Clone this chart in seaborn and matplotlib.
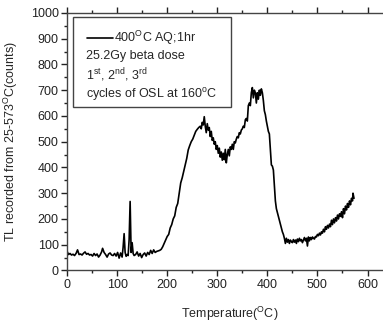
import numpy as np
import pandas as pd
import matplotlib
matplotlib.use("Agg")
import matplotlib.pyplot as plt
import seaborn as sns
from matplotlib.patches import Rectangle
from matplotlib.lines import Line2D
from matplotlib.ticker import MultipleLocator

# temperature (C) and TL counts
temperature = [0, 3, 6, 9, 12, 15, 18, 21, 24, 27, 30, 33, 36, 39, 42, 45, 48, 51, 54, 57,
               60, 63, 66, 69, 71, 74, 77, 80, 83, 86, 89, 92, 95, 98, 101, 104, 107, 110, 112, 114,
               116, 118, 120, 122, 124, 126, 128, 130, 132, 134, 137, 140, 143, 146, 149, 152, 155, 158, 161, 164,
               167, 170, 173, 176, 179, 182, 185, 188, 191, 194, 197, 200, 203, 206, 209, 212, 215, 218, 221, 224,
               227, 230, 233, 236, 239, 242, 245, 248, 251, 254, 257, 260, 263, 266, 268, 270, 272, 274, 276, 278,
               280, 282, 284, 286, 288, 290, 292, 294, 296, 298, 300, 302, 304, 306, 308, 310, 312, 314, 316, 318,
               320, 322, 324, 326, 328, 330, 332, 334, 336, 338, 340, 342, 344, 346, 348, 350, 352, 354, 356, 358,
               360, 362, 364, 366, 368, 370, 372, 374, 376, 378, 380, 382, 384, 386, 388, 390, 392, 394, 396, 398,
               400, 402, 404, 406, 408, 410, 412, 414, 416, 418, 420, 422, 424, 426, 428, 430, 432, 434, 436, 438,
               440, 442, 444, 446, 448, 450, 452, 454, 456, 458, 460, 462, 464, 466, 468, 470, 472, 474, 476, 478,
               480, 482, 484, 486, 488, 490, 492, 494, 496, 498, 500, 502, 504, 506, 508, 510, 512, 514, 516, 518,
               520, 522, 524, 526, 528, 530, 532, 534, 536, 538, 540, 542, 544, 546, 548, 550, 552, 554, 556, 558,
               560, 562, 564, 566, 568, 570, 571, 573]
counts = [75, 62, 66, 60, 63, 58, 66, 80, 62, 64, 60, 67, 72, 63, 66, 60, 62, 56, 66, 58,
          64, 52, 60, 72, 86, 70, 62, 52, 64, 68, 60, 58, 66, 56, 70, 48, 68, 52, 90, 143,
          70, 55, 62, 58, 120, 268, 70, 108, 66, 58, 62, 72, 56, 66, 50, 62, 68, 56, 70, 62,
          78, 66, 80, 70, 74, 76, 78, 82, 92, 105, 118, 132, 140, 165, 178, 200, 212, 245, 260, 300,
          340, 360, 385, 410, 435, 468, 485, 500, 510, 525, 540, 548, 555, 560, 550, 575, 565, 597, 560, 535,
          570, 545, 555, 520, 540, 505, 515, 490, 500, 470, 485, 455, 475, 440, 460, 428, 455, 430, 470, 418,
          450, 470, 445, 480, 470, 490, 470, 500, 495, 510, 520, 515, 535, 530, 545, 550, 560, 555, 585, 590,
          580, 640, 650, 640, 690, 710, 670, 700, 690, 650, 690, 665, 700, 680, 705, 690, 660, 620, 605, 580,
          560, 540, 530, 470, 410, 405, 390, 330, 270, 240, 225, 210, 195, 180, 165, 150, 140, 125, 105, 125,
          110, 120, 105, 118, 112, 108, 120, 110, 118, 105, 122, 112, 125, 115, 120, 108, 118, 128, 115, 125,
          95, 130, 115, 128, 120, 130, 125, 122, 132, 130, 140, 135, 145, 138, 150, 145, 160, 150, 170, 160,
          175, 165, 180, 170, 195, 178, 200, 185, 205, 192, 215, 200, 220, 210, 228, 205, 240, 220, 250, 235,
          260, 245, 270, 255, 280, 270, 300, 280]

legend_lines = ["25.2Gy beta dose",
                r"1$^{\mathregular{st}}$, 2$^{\mathregular{nd}}$, 3$^{\mathregular{rd}}$",
                r"cycles of OSL at 160$^{\mathregular{o}}$C"]

df = pd.DataFrame({"T": temperature, "TL": counts})

sns.set_style("ticks")
plt.rcParams["font.family"] = ["Liberation Sans", "DejaVu Sans"]
plt.rcParams["mathtext.fontset"] = "custom"
plt.rcParams["mathtext.rm"] = "Liberation Sans"
plt.rcParams["font.size"] = 9

fig = plt.figure(figsize=(3.83, 3.22), dpi=100)
ax = fig.add_axes([0.175, 0.16, 0.85, 0.8])

sns.lineplot(data=df, x="T", y="TL", ax=ax, color="black", linewidth=1.2)

ax.set_xlim(0, 650)
ax.set_ylim(0, 1000)
ax.xaxis.set_major_locator(MultipleLocator(100))
ax.xaxis.set_minor_locator(MultipleLocator(50))
ax.yaxis.set_major_locator(MultipleLocator(100))
ax.yaxis.set_minor_locator(MultipleLocator(50))
ax.tick_params(which="major", direction="out", length=4, width=1, colors="#222222", labelsize=9, pad=2)
ax.tick_params(which="minor", direction="out", length=2, width=1, colors="#222222")
ax.tick_params(axis="x", which="both", top=True, labeltop=False)
for sp in ax.spines.values():
    sp.set_color("#444444")
    sp.set_linewidth(1)
ax.spines["right"].set_visible(False)

ax.set_xlabel(r"Temperature($^{\mathregular{O}}$C)", fontsize=9, labelpad=10)
ax.set_ylabel(r"TL recorded from 25-573$^{\mathregular{O}}$C(counts)", fontsize=9, labelpad=8)

# legend box
ax.add_patch(Rectangle((0.018, 0.635), 0.487, 0.349, transform=ax.transAxes,
                       fill=False, edgecolor="#444444", linewidth=1, zorder=5))
ax.add_line(Line2D([0.06, 0.142], [0.903, 0.903], transform=ax.transAxes, color="black", linewidth=1.2))
ax.text(0.145, 0.903, r"400$^{\mathregular{O}}$C AQ;1hr", transform=ax.transAxes, va="center", fontsize=9)
for i, s in enumerate(legend_lines):
    ax.text(0.058, 0.833 - i * 0.074, s, transform=ax.transAxes, va="center", fontsize=9)

fig.savefig("out.png", dpi=100)
